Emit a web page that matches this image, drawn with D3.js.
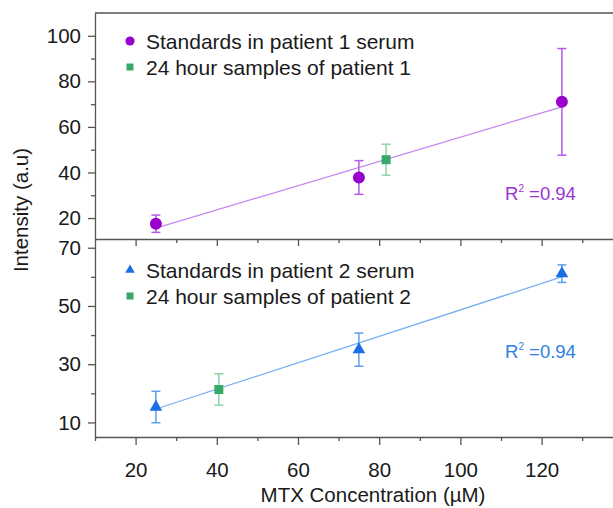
<!DOCTYPE html>
<html>
<head>
<meta charset="utf-8">
<script src="https://cdn.jsdelivr.net/npm/d3@7"></script>
<style>
  body { margin: 0; background: #fff; }
  svg { display: block; font-family: "Liberation Sans", Arial, sans-serif; }
  .axis path, .axis line { stroke: #555; stroke-width: 1.3; }
  .axis text { fill: #1a1a1a; font-size: 20.5px; }
</style>
</head>
<body>
<div id="chartarea"></div>
<script>
// x axis
const xMajorTicks = [20, 40, 60, 80, 100, 120];
const xMinorTicks = [10, 30, 50, 70, 90, 110, 130];

// top panel (patient 1)
const topMajorTicks = [20, 40, 60, 80, 100];
const topMinorTicks = [30, 50, 70, 90];
const p1StdConc = [25, 75, 125];
const p1StdValue = [17.5, 37.8, 71.0];
const p1StdErr = [3.8, 7.4, 23.4];
const p1SampleConc = [81.7];
const p1SampleValue = [45.6];
const p1SampleErr = [6.8];
const p1Fit = [2.3, 0.532]; // intercept, slope
const p1R2 = '0.94';

// bottom panel (patient 2)
const botMajorTicks = [10, 30, 50, 70];
const botMinorTicks = [20, 40, 60];
const p2StdConc = [25, 75, 125];
const p2StdValue = [15.3, 35.0, 61.1];
const p2StdErr = [5.4, 5.7, 3.0];
const p2SampleConc = [40.5];
const p2SampleValue = [21.3];
const p2SampleErr = [5.4];
const p2Fit = [3.25, 0.454];
const p2R2 = '0.94';

const W = 613, H = 508;
const margin = { left: 95, top: 13, mid: 239, bottom: 437 };

const svg = d3.select('#chartarea').append('svg')
    .attr('width', W)
    .attr('height', H);

const x = d3.scaleLinear().domain([10, 140]).range([margin.left, 622.8]);
const yTop = d3.scaleLinear().domain([10.8, 110]).range([margin.mid, margin.top]);
const yBot = d3.scaleLinear().domain([5, 73]).range([margin.bottom, margin.mid]);

// frame line at top
svg.append('line')
    .attr('x1', margin.left).attr('x2', x(140))
    .attr('y1', margin.top).attr('y2', margin.top)
    .attr('stroke', '#555').attr('stroke-width', 1.3);

// bottom x axis
svg.append('g').attr('class', 'axis')
    .attr('transform', `translate(0,${margin.bottom})`)
    .call(d3.axisBottom(x).tickValues(xMajorTicks).tickSize(8).tickPadding(17).tickSizeOuter(0));
svg.append('g').attr('class', 'axis minor')
    .attr('transform', `translate(0,${margin.bottom})`)
    .call(d3.axisBottom(x).tickValues(xMinorTicks).tickSize(4).tickFormat(''))
    .select('.domain').remove();

// divider line with inward ticks into lower panel
svg.append('g').attr('class', 'axis')
    .attr('transform', `translate(0,${margin.mid})`)
    .call(d3.axisBottom(x).tickValues(xMajorTicks).tickSize(7).tickFormat('').tickSizeOuter(0));
svg.append('g').attr('class', 'axis minor')
    .attr('transform', `translate(0,${margin.mid})`)
    .call(d3.axisBottom(x).tickValues(xMinorTicks.filter(d => d > 10)).tickSize(4).tickFormat(''))
    .select('.domain').remove();

// y axes
function yAxes(scale, major, minor) {
    svg.append('g').attr('class', 'axis')
        .attr('transform', `translate(${margin.left},0)`)
        .call(d3.axisLeft(scale).tickValues(major).tickSize(7).tickPadding(7).tickSizeOuter(0));
    svg.append('g').attr('class', 'axis minor')
        .attr('transform', `translate(${margin.left},0)`)
        .call(d3.axisLeft(scale).tickValues(minor).tickSize(4).tickFormat(''))
        .select('.domain').remove();
}
yAxes(yTop, topMajorTicks, topMinorTicks);
yAxes(yBot, botMajorTicks, botMinorTicks);

// axis titles
svg.append('text')
    .attr('x', 373).attr('y', 502)
    .attr('text-anchor', 'middle')
    .attr('font-size', '20.5px')
    .attr('fill', '#1a1a1a')
    .text('MTX Concentration (µM)');

svg.append('text')
    .attr('transform', 'translate(28,210) rotate(-90)')
    .attr('text-anchor', 'middle')
    .attr('font-size', '20.5px')
    .attr('fill', '#1a1a1a')
    .text('Intensity (a.u)');

// draw one panel
function panel(y, o) {
    const g = svg.append('g');
    const std = o.conc.map((c, i) => ({ x: c, y: o.value[i], e: o.err[i] }));
    const smp = o.sConc.map((c, i) => ({ x: c, y: o.sValue[i], e: o.sErr[i] }));

    // fit line over the standards' range
    const xs = d3.extent(o.conc);
    g.append('line')
        .attr('x1', x(xs[0])).attr('y1', y(o.fit[0] + o.fit[1] * xs[0]))
        .attr('x2', x(xs[1])).attr('y2', y(o.fit[0] + o.fit[1] * xs[1]))
        .attr('stroke', o.lineColor).attr('stroke-width', 1.2);

    function errBars(data, color) {
        const eb = g.selectAll(null).data(data).enter().append('g')
            .attr('stroke', color).attr('stroke-width', 1.5).attr('fill', 'none');
        eb.append('line')
            .attr('x1', d => x(d.x)).attr('x2', d => x(d.x))
            .attr('y1', d => y(d.y - d.e)).attr('y2', d => y(d.y + d.e));
        [-1, 1].forEach(s => {
            eb.append('line')
                .attr('x1', d => x(d.x) - 4.5).attr('x2', d => x(d.x) + 4.5)
                .attr('y1', d => y(d.y + s * d.e)).attr('y2', d => y(d.y + s * d.e));
        });
    }
    errBars(smp, o.sErrColor);
    errBars(std, o.errColor);

    g.selectAll(null).data(smp).enter().append('path')
        .attr('transform', d => `translate(${x(d.x)},${y(d.y)})`)
        .attr('d', d3.symbol(d3.symbolSquare, 81))
        .attr('fill', o.sColor);

    g.selectAll(null).data(std).enter().append('path')
        .attr('transform', d => `translate(${x(d.x)},${y(d.y)})`)
        .attr('d', d3.symbol(o.symbol, o.symbolSize))
        .attr('fill', o.color);

    // legend
    const lg = svg.append('g').attr('font-size', '21px').attr('fill', '#1a1a1a');
    lg.append('path')
        .attr('transform', `translate(130,${o.legendY})`)
        .attr('d', d3.symbol(o.symbol, o.legendSize))
        .attr('fill', o.color);
    lg.append('text').attr('x', 146).attr('y', o.legendY + 7.5).text(o.labels[0]);
    lg.append('path')
        .attr('transform', `translate(130,${o.legendY + 26})`)
        .attr('d', d3.symbol(d3.symbolSquare, 49))
        .attr('fill', o.sColor);
    lg.append('text').attr('x', 146).attr('y', o.legendY + 33.5).text(o.labels[1]);

    // R^2
    const r = svg.append('text')
        .attr('x', 505).attr('y', o.r2Y)
        .attr('font-size', '18.5px')
        .attr('fill', o.r2Color);
    r.append('tspan').text('R');
    r.append('tspan').attr('font-size', '10px').attr('dy', -8).text('2');
    r.append('tspan').attr('dy', 8).text(' =' + o.r2);
}

panel(yTop, {
    conc: p1StdConc, value: p1StdValue, err: p1StdErr,
    sConc: p1SampleConc, sValue: p1SampleValue, sErr: p1SampleErr,
    fit: p1Fit, r2: p1R2,
    symbol: d3.symbolCircle, symbolSize: 113, legendSize: 66,
    color: '#9900cc', errColor: '#b55be6', lineColor: '#c484f2',
    sColor: '#36a86a', sErrColor: '#8ed3a8',
    r2Color: '#9b33d3', r2Y: 200, legendY: 41,
    labels: ['Standards in patient 1 serum', '24 hour samples of patient 1']
});

panel(yBot, {
    conc: p2StdConc, value: p2StdValue, err: p2StdErr,
    sConc: p2SampleConc, sValue: p2SampleValue, sErr: p2SampleErr,
    fit: p2Fit, r2: p2R2,
    symbol: d3.symbolTriangle, symbolSize: 70, legendSize: 40,
    color: '#1a6fe3', errColor: '#5c9ff0', lineColor: '#74aef3',
    sColor: '#36a86a', sErrColor: '#8ed3a8',
    r2Color: '#2f7fe3', r2Y: 358, legendY: 270,
    labels: ['Standards in patient 2 serum', '24 hour samples of patient 2']
});
</script>
</body>
</html>
